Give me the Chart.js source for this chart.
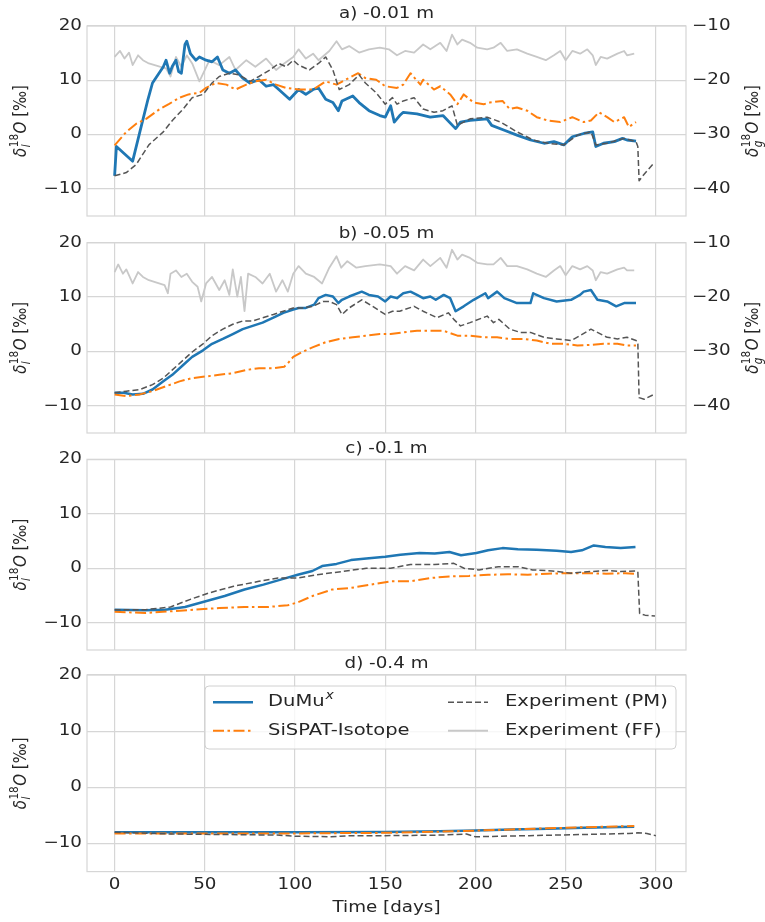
<!DOCTYPE html>
<html><head><meta charset="utf-8">
<script src="https://cdn.jsdelivr.net/npm/chart.js@4.4.1/dist/chart.umd.min.js"></script>
<style>
html,body{margin:0;padding:0;background:#fff;width:765px;height:922px;overflow:hidden;}
canvas{position:absolute;left:0;}
</style></head><body>
<canvas id="pa"></canvas><canvas id="pb"></canvas><canvas id="pc"></canvas><canvas id="pd"></canvas>
<script>
// ---------- data (days, values in permil) ----------
const panelTitles = ['a) -0.01 m', 'b) -0.05 m', 'c) -0.1 m', 'd) -0.4 m'];
const xTicks = [0, 50, 100, 150, 200, 250, 300];
const yTicks = [-10, 0, 10, 20];
const y2Ticks = [-40, -30, -20, -10];
const legendLabels = ['DuMu', 'SiSPAT-Isotope', 'Experiment (PM)', 'Experiment (FF)'];

// panel a (-0.01 m)
const aDumuxT = [0,1,10,14,18.5,21,27,28.5,30.5,32,34,35.5,37,39,40,42,45,47,50.7,54,57,60,63.6,67,71,75,80,84,88,91,97,102,106,110,113,117,121,124,126,132,135.5,141,147,150,153,155,158,160,167.6,175,182,189,191.7,197,206.5,209,216,223,230.5,238,243.5,249,253.7,260,265,266.7,271,277,281.5,284,289];
const aDumuxV = [-7.6,-2.2,-4.9,0.5,6.5,9.5,12.5,13.7,11.3,12.6,13.7,11.6,11.3,16.6,17.2,14.9,13.7,14.3,13.7,13.4,14.3,11.9,11.3,11.9,10.4,9.5,10.1,8.9,9.2,8.3,6.5,8.3,7.4,8.3,8.6,6.5,5.9,4.4,6.2,7.1,5.9,4.4,3.5,3.2,5.3,2.3,3.5,4.1,3.8,3.2,3.5,1.1,2.3,2.6,2.9,1.7,0.8,-0.1,-1.0,-1.6,-1.3,-1.9,-0.4,0.2,0.5,-2.2,-1.6,-1.3,-0.7,-1.0,-1.2];
const aSispatT = [0,6.5,12,17.5,25,30,36,41,47,50.7,56,62,67,73,78,84,89.5,95,102,110,117,123,128,135,139,145,150,156.5,160,164,169.5,171,177,180.5,186,190,193.5,199,204.6,208,215,219,223,228.7,234,240,247,253.7,260,264,268.5,273,277,282.4,285,289];
const aSispatV = [-2.0,0.5,2.0,2.9,4.7,5.6,6.8,7.4,7.7,8.6,9.5,9.2,8.3,9.2,9.8,10.1,9.2,8.6,8.3,8.3,9.8,9.2,10.1,11.3,10.4,10.1,8.9,8.6,9.2,11.3,9.2,10.1,8.3,8.9,7.4,5.6,7.4,5.9,5.6,5.9,6.2,4.7,5.0,4.4,3.2,2.6,2.3,3.2,2.3,2.6,4.1,3.2,2.3,3.2,1.4,2.3];
const aPmT = [0,6.5,12,19,27,32,38,43,49,54,58,63.6,69,75,80,86,91,95,99,102,108,113,117,121,124.5,130,135.5,139,145,150,154,156.5,160,166,171,177,182,187,190,197,206.5,214,223,232,240,249,256.5,264,266.7,273,282.4,289,290,290.7,293.5,299];
const aPmV = [-7.6,-7.0,-5.5,-1.9,0.5,2.6,4.7,6.8,7.4,9.5,10.7,11.3,11.0,9.8,10.7,11.9,13.1,12.5,13.7,12.8,11.9,13.1,14.3,11.9,8.3,9.2,11.0,9.5,7.7,5.6,6.8,5.6,6.2,6.8,4.7,4.1,4.4,5.3,1.7,2.9,3.2,2.3,0.5,-1.0,-1.6,-1.9,-0.1,0.5,-1.9,-1.6,-0.7,-1.3,-2.2,-8.5,-7.3,-5.2];
const aFfT = [0,3,5.5,8,10,13,15.7,19,25,28.5,31,34,37,40,43,47,52.6,58,63.6,67,73,78,84,89.5,94,99,102,106,110,113,119,123,126,130,135.5,141,147,152,156.5,161,166,171,175,180.5,184,187,190,192.6,197,201,206.5,210,214,217.6,223,228.7,234,239,243.5,247,250,253.7,258,262,265,266.7,269.4,273,278.7,282.4,284,288];
const aFfV = [-15.7,-14.6,-16.0,-14.9,-17.2,-15.4,-16.3,-16.9,-17.5,-17.8,-19.3,-15.7,-17.5,-15.4,-16.9,-20.2,-16.3,-17.2,-15.7,-18.1,-16.3,-17.5,-16.0,-18.1,-16.9,-15.7,-14.3,-16.0,-15.1,-16.3,-14.6,-12.8,-14.3,-13.7,-14.9,-14.3,-14.0,-14.3,-15.4,-14.6,-14.9,-13.4,-14.3,-13.1,-14.6,-11.6,-13.4,-12.5,-13.1,-14.0,-14.3,-14.0,-13.1,-14.6,-14.3,-15.1,-15.7,-16.3,-15.4,-14.6,-16.3,-14.6,-15.1,-14.3,-15.4,-17.2,-15.7,-16.0,-15.1,-14.6,-15.4,-15.1];

// panel b (-0.05 m)
const bDumuxT = [0,5,10,15.7,21,27,32,38,43,49,54,60,65.5,71,76.5,82,88,93.5,99,102,106,110.6,113,117,121,124,126,130,137,141,146,150,153,156.5,160,164,167.6,171,175,178,182.4,186,189,193.5,199,205.5,207,212,216,223,230.5,232,238,245,253,258,260,264,267.6,273,278,282.4,289];
const bDumuxV = [-7.6,-7.6,-7.9,-7.8,-7.0,-5.5,-4.3,-2.5,-1.0,0.2,1.4,2.3,3.2,4.1,4.7,5.3,6.2,7.1,7.7,8.0,8.0,8.6,9.8,10.4,10.1,8.9,9.5,10.1,11.0,10.4,10.1,9.2,10.1,9.8,10.7,11.0,10.4,9.8,10.1,9.5,10.4,9.8,7.4,8.3,9.5,10.7,9.8,11.0,9.8,8.9,8.9,10.7,9.8,9.2,9.5,10.4,11.0,11.3,9.5,9.2,8.3,8.9,8.9];
const bSispatT = [0,6.5,14,21,28.5,36,43,50.7,58,65.5,73,80,88,94,96,99,104,110,117,124.5,132,139,147,153,160,167.6,175,182.4,190,197,204.6,212,219,227,234,241.7,249,256.5,264,271,278.7,284,289];
const bSispatV = [-7.9,-8.2,-7.9,-7.3,-6.4,-5.5,-4.9,-4.6,-4.3,-4.0,-3.4,-3.1,-3.1,-2.8,-2.2,-1.0,-0.1,0.8,1.7,2.3,2.6,2.9,3.2,3.2,3.5,3.8,3.8,3.8,2.9,2.9,2.6,2.6,2.3,2.3,2.0,1.4,1.4,1.1,1.2,1.4,1.4,1.1,1.1];
const bPmT = [0,6.5,14,21,27,32,38,43,49,54,60,65.5,71,76.5,82,88,93.5,99,104,110,115.5,119,123,126,130,137,143,150,154,158,166,171,178.7,185,188,191.7,197,206.5,210,213,219,225,230.5,238,245,253,258,264,267.6,273,278.7,284,289,290,290.7,293.5,299];
const bPmV = [-7.6,-7.3,-7.0,-6.1,-4.9,-3.4,-1.6,-0.1,1.4,2.9,4.1,5.0,5.6,5.6,6.2,6.8,7.4,8.0,8.0,8.3,9.2,9.2,8.6,6.8,8.0,9.5,8.3,6.8,7.4,7.4,8.3,7.4,6.2,7.1,5.9,4.7,5.3,6.5,5.3,5.9,4.1,3.5,3.5,2.6,2.3,2.0,2.9,4.1,3.5,2.6,2.3,2.6,2.0,1.7,-8.5,-8.8,-7.9];
const bFfT = [0,2,4.6,6.5,10,13,15.7,19,27.7,29.5,31,34,37,40,43,46,48,50.7,54,58,61,63.6,65.5,68,70,72,74,78,82,86,89.5,93,96,99,102,106,110.6,115,119,123,125.6,129,134,139,147,153,156.5,161,166,171,175,180.5,184,187,190,192.6,197,201,206.5,210,214,217.6,223,228.7,234,239,243.5,247,250,253.7,258,262,265,266.7,269.4,273,278.7,282.4,284,288];
const bFfV = [-15.4,-14.0,-15.7,-14.9,-17.5,-15.4,-16.3,-16.9,-17.8,-19.3,-15.7,-15.1,-16.3,-15.7,-17.2,-18.1,-20.8,-17.5,-16.3,-18.7,-16.9,-19.6,-14.9,-19.9,-16.3,-22.6,-15.7,-16.3,-17.5,-15.7,-19.0,-16.9,-19.0,-15.7,-14.3,-15.7,-16.3,-17.5,-14.6,-12.5,-14.6,-13.4,-14.6,-14.3,-14.0,-14.3,-15.7,-14.3,-15.1,-13.1,-14.3,-12.8,-14.6,-11.3,-13.1,-12.2,-12.8,-13.7,-14.0,-14.0,-12.8,-14.3,-14.3,-14.9,-15.7,-16.3,-15.1,-14.3,-16.0,-14.3,-14.9,-14.3,-15.1,-16.9,-15.4,-15.7,-14.9,-14.6,-15.1,-15.1];

// panel c (-0.1 m)
const cDumuxT = [0,17,28,39,50,61,72,82.5,93,101.5,109.6,115,123,131,139.5,150,158.4,169,177.4,185.6,192,200.5,207,215,223.5,234,245,253,259,265.6,272,280.5,288.7];
const cDumuxV = [-7.6,-7.7,-7.6,-7.1,-6.1,-5.1,-3.9,-3.0,-2.0,-1.2,-0.5,0.4,0.8,1.5,1.8,2.1,2.5,2.8,2.7,3.0,2.4,2.8,3.3,3.7,3.5,3.4,3.2,3.0,3.3,4.2,3.9,3.7,3.9];
const cSispatT = [0,17,31,44.5,58,72,85,96,101.5,109.6,120.5,131,142,153,164,174.7,185.6,196.4,207,218,229,240,250.7,261.5,272.4,283,288.7];
const cSispatV = [-8.0,-8.2,-7.9,-7.6,-7.3,-7.1,-7.1,-6.8,-6.25,-5.1,-3.9,-3.6,-3.0,-2.4,-2.4,-1.8,-1.5,-1.4,-1.2,-1.1,-1.2,-1.0,-0.9,-0.9,-1.0,-0.9,-1.0];
const cPmT = [0,17,31,42,52.6,66,80,90.6,101.5,112,126,139.5,153,164,177.4,188,193.7,202,212.7,223.5,231.7,242.5,253,264,272.4,280.5,288.7,290,291,294,299.5];
const cPmV = [-7.6,-7.6,-7.1,-5.7,-4.5,-3.3,-2.4,-1.8,-1.8,-1.2,-0.6,0.0,0.0,0.7,0.7,0.9,0.0,-0.3,0.3,0.3,-0.3,-0.5,-0.9,-0.6,-0.4,-0.6,-0.5,-0.6,-8.3,-8.6,-8.75];

// panel d (-0.4 m)
const dDumuxT = [0,50,100,150,180,200,220,240,260,280,288];
const dDumuxV = [-8.0,-8.0,-8.0,-7.95,-7.8,-7.7,-7.5,-7.35,-7.2,-7.05,-7.0];
const dSispatT = [0,50,100,150,180,200,220,240,260,280,288];
const dSispatV = [-8.2,-8.2,-8.2,-8.1,-7.9,-7.7,-7.5,-7.3,-7.1,-6.95,-6.9];
const dPmT = [0,30,60,90,100,120,130,150,180,195,200,230,260,285,290,295,300];
const dPmV = [-8.0,-8.3,-8.4,-8.5,-8.7,-8.8,-8.6,-8.6,-8.5,-8.3,-8.8,-8.6,-8.4,-8.2,-8.1,-8.2,-8.6];

// ---------- styling / layout ----------
const SX = 1.22;            // horizontal text stretch seen in the reference
const TXT = '#262626';
const GRID = '#d6d6d6';
const FONT = '"DejaVu Sans"';
const COL = {dumux:'#1f77b4', sispat:'#ff7f0e', pm:'#555555', ff:'#c8c8c8'};
const DASH = {sispat:[11,3.5,2.5,3.5], pm:[6,3]};
const plotTops = [26, 242.7, 459.3, 675];
const plotH = 196.6;
const PLOT_L = 87, PLOT_R = 686, W = 765;
const titleYs = [14, 234, 449, 664];

const rawFill = CanvasRenderingContext2D.prototype.fillText;
CanvasRenderingContext2D.prototype.fillText = function(t, x, y, m) {
  this.save(); this.translate(x, y); this.scale(SX, 1);
  if (m === undefined || m === null) rawFill.call(this, t, 0, 0);
  else rawFill.call(this, t, 0, 0, m / SX);
  this.restore();
};

function pts(t, v) { return t.map((x, i) => ({x: x, y: v[i]})); }
function minus(v) { return String(v).replace('-', '\u2212'); }

function deltaLabel(ctx, cx, cy, sub) {
  ctx.save();
  ctx.translate(cx, cy); ctx.scale(SX, 1); ctx.rotate(-Math.PI / 2);
  ctx.fillStyle = TXT; ctx.textBaseline = 'alphabetic'; ctx.textAlign = 'left';
  const big = 'italic 15px ' + FONT, smallI = 'italic 10.5px ' + FONT, small = '10.5px ' + FONT, norm = '15px ' + FONT;
  ctx.font = big; const wd = ctx.measureText('\u03b4').width, wo = ctx.measureText('O').width;
  ctx.font = smallI; const ws = ctx.measureText(sub).width;
  ctx.font = small; const wu = ctx.measureText('18').width;
  ctx.font = norm; const wr = ctx.measureText(' [\u2030]').width;
  const wmid = Math.max(ws, wu) + 1;
  let u = -(wd + wmid + wo + wr) / 2; const base = 5;
  ctx.font = big; rawFill.call(ctx, '\u03b4', u, base); u += wd;
  ctx.font = smallI; rawFill.call(ctx, sub, u + 0.5, base + 3.5);
  ctx.font = small; rawFill.call(ctx, '18', u + 0.5, base - 7);
  u += wmid;
  ctx.font = big; rawFill.call(ctx, 'O', u, base); u += wo;
  ctx.font = norm; rawFill.call(ctx, ' [\u2030]', u, base);
  ctx.restore();
}

function drawLegend(ctx, off) {
  const x0 = 205, x1 = 676, y0 = 686 - off, y1 = 749 - off, r = 4;
  ctx.save();
  ctx.beginPath();
  ctx.moveTo(x0 + r, y0); ctx.lineTo(x1 - r, y0); ctx.quadraticCurveTo(x1, y0, x1, y0 + r);
  ctx.lineTo(x1, y1 - r); ctx.quadraticCurveTo(x1, y1, x1 - r, y1);
  ctx.lineTo(x0 + r, y1); ctx.quadraticCurveTo(x0, y1, x0, y1 - r);
  ctx.lineTo(x0, y0 + r); ctx.quadraticCurveTo(x0, y0, x0 + r, y0); ctx.closePath();
  ctx.fillStyle = 'rgba(255,255,255,0.8)'; ctx.fill();
  ctx.strokeStyle = '#d0d0d0'; ctx.lineWidth = 1; ctx.stroke();
  const rows = [702.3 - off, 730.7 - off];
  const items = [
    {lx: 213, tx: 268, y: rows[0], c: COL.dumux, w: 2.5, d: [], label: legendLabels[0], sup: 'x'},
    {lx: 213, tx: 268, y: rows[1], c: COL.sispat, w: 2, d: DASH.sispat, label: legendLabels[1]},
    {lx: 448, tx: 505, y: rows[0], c: COL.pm, w: 1.5, d: DASH.pm, label: legendLabels[2]},
    {lx: 448, tx: 505, y: rows[1], c: COL.ff, w: 2, d: [], label: legendLabels[3]}
  ];
  items.forEach(it => {
    ctx.beginPath(); ctx.setLineDash(it.d); ctx.strokeStyle = it.c; ctx.lineWidth = it.w;
    ctx.moveTo(it.lx, it.y); ctx.lineTo(it.lx + 40, it.y); ctx.stroke();
    ctx.setLineDash([]);
    ctx.fillStyle = TXT; ctx.font = '16px ' + FONT; ctx.textAlign = 'left'; ctx.textBaseline = 'middle';
    ctx.fillText(it.label, it.tx, it.y);
    if (it.sup) {
      const w = ctx.measureText(it.label).width * SX;
      ctx.font = 'italic 11.5px ' + FONT;
      ctx.fillText(it.sup, it.tx + w + 1, it.y - 6);
    }
  });
  ctx.restore();
}

function makePanel(id, idx, sets, twin) {
  const last = idx === 3;
  const plotTop = plotTops[idx];
  const canvasTop = Math.floor(plotTop) - 26;
  const padTop = plotTop - canvasTop;
  const canvasH = last ? 922 - canvasTop : Math.ceil(padTop + plotH + 8);
  const xH = canvasH - padTop - plotH;
  const cv = document.getElementById(id);
  cv.style.top = canvasTop + 'px';
  cv.width = W; cv.height = canvasH;
  cv.style.width = W + 'px'; cv.style.height = canvasH + 'px';

  const deco = {
    id: 'deco' + idx,
    beforeDatasetsDraw(chart) {
      const a = chart.chartArea, ctx = chart.ctx;
      ctx.save(); ctx.strokeStyle = GRID; ctx.lineWidth = 1.2;
      ctx.strokeRect(a.left, a.top, a.right - a.left, a.bottom - a.top);
      ctx.restore();
    },
    afterDraw(chart) {
      const a = chart.chartArea, ctx = chart.ctx;
      ctx.save();
      ctx.fillStyle = TXT; ctx.font = '15px ' + FONT; ctx.textAlign = 'center'; ctx.textBaseline = 'middle';
      ctx.fillText(panelTitles[idx], (a.left + a.right) / 2, titleYs[idx] - canvasTop);
      ctx.restore();
      deltaLabel(ctx, 20, (a.top + a.bottom) / 2, 'l');
      if (twin) deltaLabel(ctx, 752, (a.top + a.bottom) / 2, 'g');
      if (last) {
        ctx.save();
        ctx.fillStyle = TXT; ctx.font = '15px ' + FONT; ctx.textAlign = 'center'; ctx.textBaseline = 'middle';
        ctx.fillText('Time [days]', (a.left + a.right) / 2, 908 - canvasTop);
        ctx.restore();
        drawLegend(ctx, canvasTop);
      }
    }
  };

  const datasets = [];
  if (sets.pm) datasets.push({data: pts(sets.pm[0], sets.pm[1]), borderColor: COL.pm, borderWidth: 1.5, borderDash: DASH.pm, order: 0, yAxisID: 'y'});
  if (sets.sispat) datasets.push({data: pts(sets.sispat[0], sets.sispat[1]), borderColor: COL.sispat, borderWidth: 2, borderDash: DASH.sispat, order: 1, yAxisID: 'y'});
  if (sets.dumux) datasets.push({data: pts(sets.dumux[0], sets.dumux[1]), borderColor: COL.dumux, borderWidth: idx === 0 ? 2.8 : 2.5, order: 2, yAxisID: 'y'});
  if (sets.ff) datasets.push({data: pts(sets.ff[0], sets.ff[1]), borderColor: COL.ff, borderWidth: 1.8, order: 3, yAxisID: 'y2'});

  const tickFont = {family: FONT, size: 15};
  const scales = {
    x: {
      type: 'linear', min: -15.3, max: 316.7,
      afterBuildTicks: s => { s.ticks = xTicks.map(v => ({value: v})); },
      afterFit: s => { s.height = xH; },
      grid: {color: GRID, lineWidth: 1.2, drawTicks: false},
      border: {display: false},
      ticks: {display: last, padding: 5, font: tickFont, color: TXT, maxRotation: 0, callback: v => minus(v)}
    },
    y: {
      type: 'linear', position: 'left', min: -15, max: 20,
      afterBuildTicks: s => { s.ticks = yTicks.map(v => ({value: v})); },
      afterFit: s => { s.width = PLOT_L; },
      grid: {color: GRID, lineWidth: 1.2, drawTicks: false},
      border: {display: false},
      ticks: {padding: 5, font: tickFont, color: TXT, callback: v => minus(v)}
    }
  };
  if (twin) {
    scales.y2 = {
      type: 'linear', position: 'right', min: -45, max: -10,
      afterBuildTicks: s => { s.ticks = y2Ticks.map(v => ({value: v})); },
      afterFit: s => { s.width = W - PLOT_R; },
      grid: {display: false, drawTicks: false},
      border: {display: false},
      ticks: {padding: 6, font: tickFont, color: TXT, callback: v => minus(v)}
    };
  }
  new Chart(cv.getContext('2d'), {
    type: 'line',
    data: {datasets: datasets},
    options: {
      responsive: false, animation: false, devicePixelRatio: 1,
      layout: {padding: {top: padTop, left: 0, right: twin ? 0 : W - PLOT_R, bottom: 0}},
      plugins: {legend: {display: false}, tooltip: {enabled: false}, title: {display: false}},
      elements: {point: {radius: 0}, line: {tension: 0, borderJoinStyle: 'round', borderCapStyle: 'butt', fill: false}},
      scales: scales
    },
    plugins: [deco]
  });
}

makePanel('pa', 0, {dumux: [aDumuxT, aDumuxV], sispat: [aSispatT, aSispatV], pm: [aPmT, aPmV], ff: [aFfT, aFfV]}, true);
makePanel('pb', 1, {dumux: [bDumuxT, bDumuxV], sispat: [bSispatT, bSispatV], pm: [bPmT, bPmV], ff: [bFfT, bFfV]}, true);
makePanel('pc', 2, {dumux: [cDumuxT, cDumuxV], sispat: [cSispatT, cSispatV], pm: [cPmT, cPmV]}, false);
makePanel('pd', 3, {dumux: [dDumuxT, dDumuxV], sispat: [dSispatT, dSispatV], pm: [dPmT, dPmV]}, false);
</script>
</body></html>
